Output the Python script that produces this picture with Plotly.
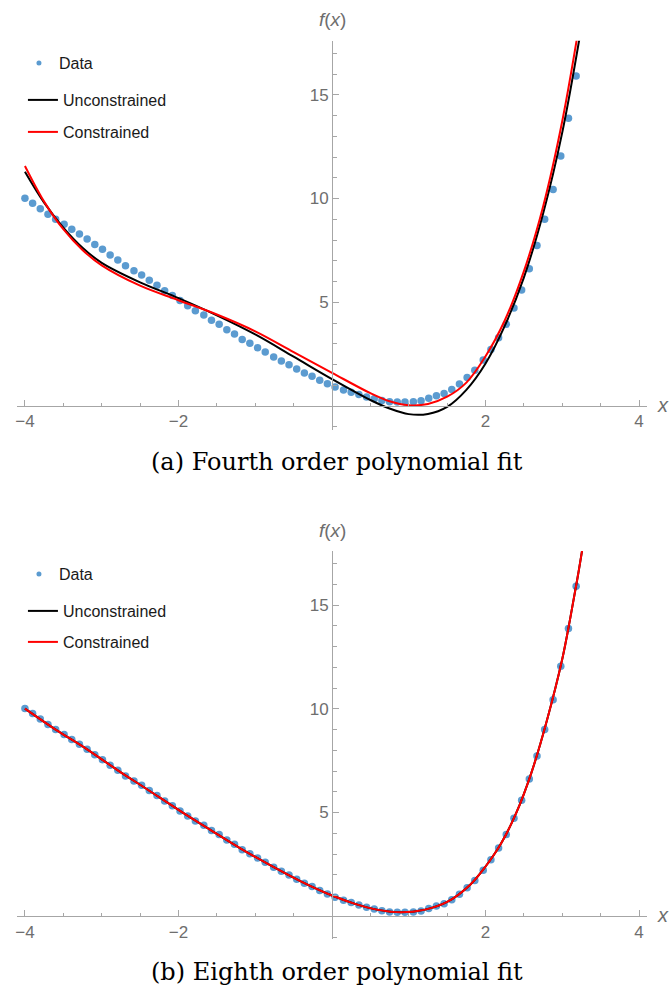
import plotly.graph_objects as go

W, H = 669, 988

# ---------------- data ----------------
data_x = [-4.00, -3.90, -3.80, -3.70, -3.60, -3.49, -3.39, -3.29, -3.19, -3.09,
          -2.99, -2.89, -2.79, -2.69, -2.58, -2.48, -2.38, -2.28, -2.18, -2.08,
          -1.98, -1.88, -1.78, -1.67, -1.57, -1.47, -1.37, -1.27, -1.17, -1.07,
          -0.97, -0.87, -0.76, -0.66, -0.56, -0.46, -0.36, -0.26, -0.16, -0.06,
          0.04, 0.15, 0.25, 0.35, 0.45, 0.55, 0.65, 0.75, 0.85, 0.95,
          1.06, 1.16, 1.26, 1.36, 1.46, 1.56, 1.66, 1.76, 1.86, 1.97,
          2.07, 2.17, 2.27, 2.37, 2.47, 2.57, 2.67, 2.77, 2.88, 2.98,
          3.08, 3.18]
data_y = [10.01, 9.77, 9.51, 9.24, 9.00, 8.76, 8.52, 8.29, 8.05, 7.79,
          7.55, 7.28, 7.04, 6.76, 6.52, 6.31, 6.06, 5.82, 5.56, 5.33,
          5.08, 4.83, 4.59, 4.39, 4.13, 3.94, 3.68, 3.47, 3.21, 3.02,
          2.81, 2.60, 2.36, 2.17, 1.99, 1.78, 1.59, 1.43, 1.24, 1.07,
          0.92, 0.77, 0.66, 0.55, 0.43, 0.35, 0.27, 0.21, 0.19, 0.19,
          0.21, 0.26, 0.37, 0.50, 0.61, 0.80, 1.06, 1.38, 1.73, 2.22,
          2.73, 3.29, 3.94, 4.72, 5.59, 6.62, 7.73, 9.00, 10.43, 12.05,
          13.87, 15.90]

# (a) fourth order fits
unc_a_x = [-4.0, -3.75, -3.5, -3.25, -3.0, -2.5, -2.0, -1.5, -1.0, -0.5, 0.0,
           0.5, 0.75, 1.0, 1.25, 1.5, 1.75, 2.0, 2.25, 2.5, 2.75, 3.0, 3.25]
unc_a_y = [11.29, 9.80, 8.60, 7.63, 6.90, 5.96, 5.20, 4.37, 3.45, 2.38, 1.30,
           0.29, -0.12, -0.39, -0.38, -0.04, 0.78, 2.05, 3.86, 6.20, 9.28, 13.2, 18.3]
con_a_x = [-4.0, -3.75, -3.5, -3.25, -3.0, -2.5, -2.0, -1.5, -1.0, -0.5, 0.0,
           0.5, 0.75, 1.0, 1.25, 1.5, 1.75, 2.0, 2.25, 2.5, 2.75, 3.0, 3.25]
con_a_y = [11.57, 9.85, 8.52, 7.52, 6.78, 5.80, 5.10, 4.41, 3.60, 2.60, 1.60,
           0.62, 0.23, 0.04, 0.10, 0.45, 1.13, 2.40, 4.12, 6.50, 9.62, 13.75, 19.05]

# (b) eighth order fits
unc_b_x = [-4.0, -3.6, -3.2, -2.8, -2.4, -2.0, -1.6, -1.2, -0.8, -0.4, 0.0, 0.3,
           0.6, 0.9, 1.2, 1.5, 1.8, 2.0, 2.2, 2.4, 2.6, 2.8, 3.0, 3.1, 3.2, 3.3]
unc_b_y = [10.01, 9.0, 8.07, 7.06, 6.1, 5.13, 4.2, 3.29, 2.45, 1.67, 1.0, 0.6,
           0.31, 0.19, 0.31, 0.69, 1.52, 2.40, 3.49, 4.98, 6.95, 9.45, 12.41, 14.3, 16.35, 18.6]
con_b_x = [-4.0, -3.6, -3.2, -2.8, -2.4, -2.0, -1.6, -1.2, -0.8, -0.4, 0.0, 0.3,
           0.6, 0.9, 1.2, 1.5, 1.8, 2.0, 2.2, 2.4, 2.6, 2.8, 3.0, 3.1, 3.2, 3.3]
con_b_y = [10.01, 9.0, 8.07, 7.06, 6.1, 5.13, 4.2, 3.29, 2.45, 1.67, 1.0, 0.6,
           0.31, 0.19, 0.31, 0.69, 1.52, 2.40, 3.49, 4.98, 6.95, 9.45, 12.41, 14.3, 16.35, 18.6]

x_tickvals = [-4, -2, 2, 4]
x_ticktext = ["\u22124", "\u22122", "2", "4"]
y_tickvals = [5, 10, 15]
y_ticktext = ["5", "10", "15"]
series_names = ["Data", "Unconstrained", "Constrained"]
captions = ["(a) Fourth order polynomial fit", "(b) Eighth order polynomial fit"]

# ---------------- styling / layout ----------------
BLUE = "#5b9bd0"
AXC = "#a6a6a6"
TXT = "#6e6e6e"
SANS = "Liberation Sans, Arial, sans-serif"
SERIF = "DejaVu Serif, serif"

X_RANGE = [-4.1, 4.1]
YA_RANGE = [-1.15, 17.6]
YB_RANGE = [-1.08, 17.6]


def fx(px):
    return px / W


def fy(py):
    return 1 - py / H


x_dom = [fx(15.3), fx(646.7)]
ya_dom = [fy(429.9), fy(40.8)]
yb_dom = [fy(938.7), fy(551.1)]


def zero_pos(dom, rng):
    return dom[0] + (0 - rng[0]) / (rng[1] - rng[0]) * (dom[1] - dom[0])


fig = go.Figure()

panels = [
    ("x", "y", unc_a_x, unc_a_y, con_a_x, con_a_y, ["legend", "legend2", "legend3"]),
    ("x2", "y2", unc_b_x, unc_b_y, con_b_x, con_b_y, ["legend4", "legend5", "legend6"]),
]
for xa, ya, ux, uy, cx, cy, legs in panels:
    fig.add_trace(go.Scatter(x=data_x, y=data_y, mode="markers", xaxis=xa, yaxis=ya,
                             marker=dict(size=7.5, color=BLUE), showlegend=False,
                             hoverinfo="skip"))
    # legend entry for data (small dot as in the reference legend)
    fig.add_trace(go.Scatter(x=[None], y=[None], mode="markers", xaxis=xa, yaxis=ya,
                             marker=dict(size=5, color=BLUE), name=series_names[0],
                             legend=legs[0], showlegend=True))
    fig.add_trace(go.Scatter(x=ux, y=uy, mode="lines", xaxis=xa, yaxis=ya,
                             line=dict(color="black", width=2, shape="spline", smoothing=1.0),
                             name=series_names[1], legend=legs[1], hoverinfo="skip"))
    fig.add_trace(go.Scatter(x=cx, y=cy, mode="lines", xaxis=xa, yaxis=ya,
                             line=dict(color="red", width=2, shape="spline", smoothing=1.0),
                             name=series_names[2], legend=legs[2], hoverinfo="skip"))

common = dict(showgrid=False, zeroline=False, showline=True, linecolor=AXC, linewidth=1,
              ticks="inside", ticklen=6, tickwidth=1, tickcolor=AXC,
              tickfont=dict(family=SANS, size=17, color=TXT), fixedrange=True)
xminor = dict(tickmode="linear", tick0=0, dtick=0.5, ticks="inside", ticklen=3.5,
              tickcolor=AXC, tickwidth=1)
yminor = dict(tickmode="linear", tick0=0, dtick=1, ticks="inside", ticklen=3.5,
              tickcolor=AXC, tickwidth=1)

layout_axes = {}
for xa, ya, ydom, yrng in [("xaxis", "yaxis", ya_dom, YA_RANGE), ("xaxis2", "yaxis2", yb_dom, YB_RANGE)]:
    layout_axes[xa] = dict(common, range=X_RANGE, domain=x_dom, anchor="free",
                           position=zero_pos(ydom, yrng), tickmode="array",
                           tickvals=x_tickvals, ticktext=x_ticktext, minor=xminor)
    layout_axes[ya] = dict(common, range=yrng, domain=ydom, anchor="free",
                           position=zero_pos(x_dom, X_RANGE), tickmode="array",
                           tickvals=y_tickvals, ticktext=y_ticktext, minor=yminor)

legend_pos = {
    "legend": (17, 63), "legend2": (21, 100), "legend3": (21, 132),
    "legend4": (17, 574), "legend5": (21, 611), "legend6": (21, 642),
}
legends = {}
for k, (lx, ly) in legend_pos.items():
    legends[k] = dict(x=fx(lx), y=fy(ly), xanchor="left", yanchor="middle",
                      bgcolor="rgba(0,0,0,0)", borderwidth=0,
                      font=dict(family=SANS, size=16, color="#1a1a1a"))

annotations = []
for off in [0, 510.3]:
    annotations.append(dict(x=fx(663), y=fy(405 + off), xref="paper", yref="paper",
                            text="<i>x</i>", showarrow=False, xanchor="center", yanchor="middle",
                            font=dict(family=SANS, size=20, color=TXT)))
    annotations.append(dict(x=fx(331), y=fy(20 + off), xref="paper", yref="paper",
                            text="<i>f</i>(<i>x</i>)", showarrow=False, xanchor="center",
                            yanchor="middle", font=dict(family=SANS, size=19, color=TXT)))
for cap, cy_px in zip(captions, [462, 972]):
    annotations.append(dict(x=fx(336), y=fy(cy_px), xref="paper", yref="paper", text=cap,
                            showarrow=False, xanchor="center", yanchor="middle",
                            font=dict(family=SERIF, size=24, color="black")))

fig.update_layout(width=W, height=H, margin=dict(l=0, r=0, t=0, b=0),
                  paper_bgcolor="white", plot_bgcolor="white",
                  annotations=annotations, **layout_axes, **legends)

fig.write_html("out.html")
